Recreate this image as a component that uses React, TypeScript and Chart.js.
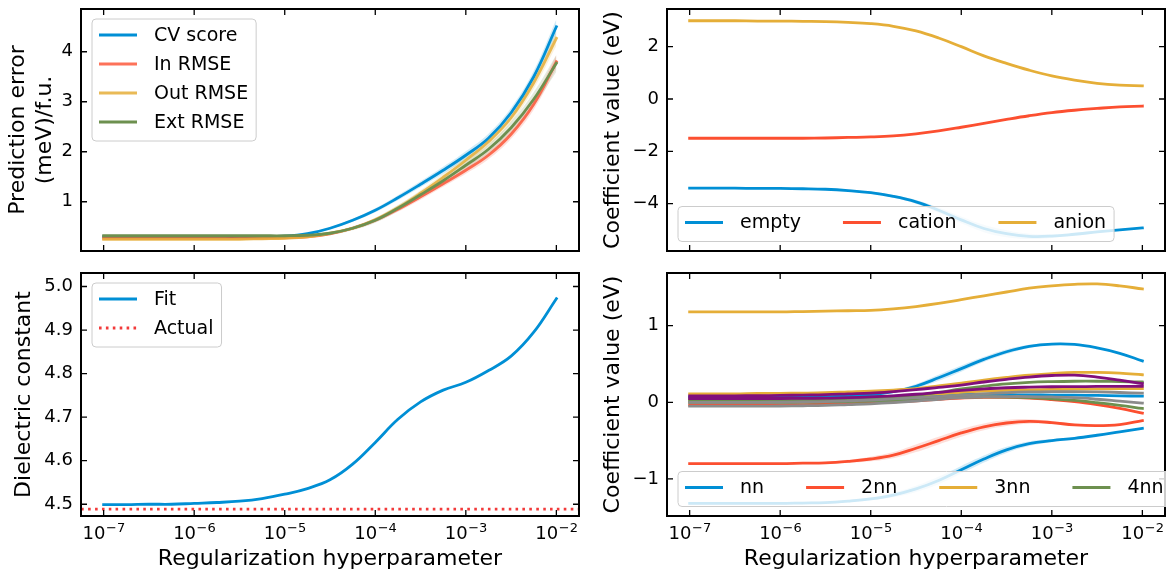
import React, { useEffect, useRef } from "react";
import { Chart, registerables } from "chart.js";

Chart.register(...registerables);

const FONT = '"DejaVu Sans", "Liberation Sans", sans-serif';

// ---------------- data ----------------
const logLambda = [-7, -6.75, -6.5, -6.25, -6, -5.75, -5.5, -5.25, -5, -4.75, -4.5, -4.25, -4, -3.75, -3.5, -3.25, -3, -2.75, -2.5, -2.25, -2];
const xAxisMinExp = -7.25;
const xAxisMaxExp = -1.75;
const xTickExponents = [-7, -6, -5, -4, -3, -2];
const xTickSupLabels = ["\u22127", "\u22126", "\u22125", "\u22124", "\u22123", "\u22122"];

// top-left: prediction error
const cvScore = [0.30, 0.30, 0.30, 0.30, 0.30, 0.30, 0.30, 0.30, 0.31, 0.36, 0.47, 0.63, 0.83, 1.08, 1.35, 1.63, 1.93, 2.27, 2.78, 3.50, 4.50];
const cvScoreStd = [0.01, 0.01, 0.01, 0.01, 0.01, 0.01, 0.01, 0.01, 0.01, 0.015, 0.02, 0.03, 0.04, 0.05, 0.06, 0.07, 0.08, 0.09, 0.10, 0.12, 0.15];
const inRmse = [0.27, 0.27, 0.27, 0.27, 0.27, 0.27, 0.27, 0.27, 0.28, 0.30, 0.36, 0.47, 0.63, 0.85, 1.10, 1.36, 1.63, 1.93, 2.35, 2.95, 3.80];
const inRmseStd = [0.01, 0.01, 0.01, 0.01, 0.01, 0.01, 0.01, 0.01, 0.01, 0.015, 0.02, 0.03, 0.04, 0.05, 0.06, 0.06, 0.07, 0.08, 0.09, 0.11, 0.13];
const outRmse = [0.25, 0.25, 0.25, 0.25, 0.25, 0.25, 0.25, 0.26, 0.27, 0.30, 0.37, 0.47, 0.64, 0.88, 1.17, 1.49, 1.83, 2.20, 2.68, 3.38, 4.27];
const outRmseStd = [0.01, 0.01, 0.01, 0.01, 0.01, 0.01, 0.01, 0.01, 0.01, 0.015, 0.02, 0.03, 0.04, 0.05, 0.06, 0.07, 0.08, 0.09, 0.10, 0.12, 0.15];
const extRmse = [0.32, 0.32, 0.32, 0.32, 0.32, 0.32, 0.32, 0.32, 0.32, 0.33, 0.37, 0.47, 0.63, 0.87, 1.14, 1.42, 1.73, 2.05, 2.48, 3.05, 3.77];
const extRmseStd = [0.02, 0.02, 0.02, 0.02, 0.02, 0.02, 0.02, 0.02, 0.02, 0.02, 0.03, 0.04, 0.05, 0.06, 0.07, 0.08, 0.09, 0.10, 0.12, 0.14, 0.17];
const errorTicks = [1, 2, 3, 4];
const errorTickLabels = ["1", "2", "3", "4"];

// bottom-left: dielectric constant
const dielectricFit = [4.499, 4.499, 4.500, 4.500, 4.502, 4.504, 4.507, 4.513, 4.523, 4.536, 4.556, 4.592, 4.642, 4.695, 4.735, 4.762, 4.780, 4.807, 4.840, 4.895, 4.972];
const dielectricActual = [4.489, 4.489];
const dielectricTicks = [4.5, 4.6, 4.7, 4.8, 4.9, 5.0];
const dielectricTickLabels = ["4.5", "4.6", "4.7", "4.8", "4.9", "5.0"];

// top-right: point coefficients
const emptyCoef = [-3.41, -3.41, -3.41, -3.42, -3.42, -3.43, -3.45, -3.50, -3.58, -3.72, -3.93, -4.25, -4.62, -4.95, -5.15, -5.25, -5.24, -5.17, -5.08, -5.00, -4.93];
const emptyStd = [0.02, 0.02, 0.02, 0.02, 0.02, 0.02, 0.02, 0.03, 0.04, 0.05, 0.07, 0.10, 0.13, 0.14, 0.13, 0.10, 0.07, 0.05, 0.04, 0.03, 0.03];
const cationCoef = [-1.50, -1.50, -1.50, -1.50, -1.50, -1.50, -1.49, -1.47, -1.45, -1.41, -1.33, -1.22, -1.08, -0.93, -0.78, -0.64, -0.52, -0.43, -0.36, -0.30, -0.27];
const anionCoef = [2.99, 2.99, 2.99, 2.98, 2.98, 2.97, 2.96, 2.93, 2.88, 2.78, 2.60, 2.33, 2.00, 1.65, 1.36, 1.10, 0.88, 0.72, 0.60, 0.53, 0.50];
const pointTicks = [-4, -2, 0, 2];
const pointTickLabels = ["\u22124", "\u22122", "0", "2"];

// bottom-right: pair coefficients
const nnA = [0.07, 0.07, 0.07, 0.07, 0.07, 0.072, 0.075, 0.085, 0.10, 0.14, 0.21, 0.32, 0.44, 0.56, 0.66, 0.73, 0.76, 0.755, 0.71, 0.64, 0.54];
const nnAStd = [0.01, 0.01, 0.01, 0.01, 0.01, 0.01, 0.01, 0.01, 0.015, 0.02, 0.03, 0.04, 0.04, 0.035, 0.03, 0.02, 0.015, 0.01, 0.01, 0.01, 0.01];
const nnB = [0.06, 0.06, 0.06, 0.06, 0.06, 0.062, 0.065, 0.07, 0.075, 0.08, 0.09, 0.10, 0.105, 0.105, 0.10, 0.097, 0.095, 0.093, 0.09, 0.085, 0.08];
const nnC = [-1.32, -1.32, -1.32, -1.32, -1.32, -1.315, -1.31, -1.29, -1.26, -1.21, -1.13, -1.02, -0.88, -0.74, -0.62, -0.54, -0.50, -0.47, -0.43, -0.385, -0.34];
const nnCStd = [0.01, 0.01, 0.01, 0.01, 0.01, 0.01, 0.01, 0.015, 0.02, 0.03, 0.04, 0.05, 0.05, 0.045, 0.04, 0.03, 0.02, 0.015, 0.01, 0.01, 0.01];
const nn2A = [-0.80, -0.80, -0.80, -0.80, -0.80, -0.795, -0.79, -0.77, -0.74, -0.69, -0.60, -0.50, -0.40, -0.32, -0.27, -0.25, -0.265, -0.295, -0.305, -0.29, -0.24];
const nn2AStd = [0.01, 0.01, 0.01, 0.01, 0.01, 0.01, 0.015, 0.02, 0.03, 0.04, 0.05, 0.05, 0.05, 0.045, 0.04, 0.03, 0.02, 0.015, 0.01, 0.01, 0.01];
const nn2B = [-0.035, -0.035, -0.035, -0.035, -0.033, -0.03, -0.025, -0.018, -0.008, 0.005, 0.02, 0.04, 0.055, 0.065, 0.065, 0.055, 0.035, 0.01, -0.03, -0.08, -0.14];
const nn3A = [1.18, 1.18, 1.18, 1.18, 1.18, 1.185, 1.19, 1.195, 1.20, 1.22, 1.25, 1.29, 1.34, 1.39, 1.44, 1.49, 1.52, 1.54, 1.545, 1.52, 1.48];
const nn3B = [0.11, 0.11, 0.11, 0.115, 0.117, 0.12, 0.125, 0.135, 0.145, 0.16, 0.18, 0.215, 0.25, 0.29, 0.325, 0.355, 0.375, 0.39, 0.39, 0.38, 0.36];
const nn3C = [0.04, 0.04, 0.04, 0.04, 0.04, 0.042, 0.045, 0.05, 0.06, 0.075, 0.09, 0.11, 0.13, 0.145, 0.155, 0.163, 0.168, 0.172, 0.175, 0.178, 0.18];
const nn4A = [0.03, 0.03, 0.03, 0.03, 0.03, 0.032, 0.035, 0.04, 0.045, 0.06, 0.09, 0.13, 0.175, 0.21, 0.24, 0.26, 0.27, 0.275, 0.275, 0.27, 0.265];
const nn4B = [0.0, 0.0, 0.0, 0.0, 0.0, 0.002, 0.005, 0.01, 0.015, 0.025, 0.04, 0.055, 0.065, 0.07, 0.068, 0.06, 0.045, 0.025, -0.005, -0.04, -0.08];
const nn5A = [0.0, 0.0, 0.0, 0.0, 0.002, 0.005, 0.01, 0.02, 0.03, 0.045, 0.06, 0.075, 0.095, 0.11, 0.125, 0.135, 0.14, 0.14, 0.135, 0.128, 0.12];
const nn5B = [-0.05, -0.05, -0.05, -0.05, -0.048, -0.045, -0.04, -0.03, -0.02, -0.005, 0.015, 0.04, 0.06, 0.07, 0.075, 0.075, 0.07, 0.06, 0.04, 0.015, -0.01];
const nn6A = [0.085, 0.085, 0.085, 0.087, 0.09, 0.095, 0.10, 0.11, 0.12, 0.14, 0.165, 0.195, 0.225, 0.265, 0.30, 0.33, 0.35, 0.355, 0.33, 0.29, 0.245];
const nn6B = [0.05, 0.05, 0.05, 0.05, 0.05, 0.052, 0.055, 0.06, 0.07, 0.085, 0.105, 0.13, 0.155, 0.175, 0.19, 0.198, 0.203, 0.205, 0.207, 0.208, 0.21];
const pairTicks = [-1, 0, 1];
const pairTickLabels = ["\u22121", "0", "1"];

// ---------------- styles ----------------
const C = {
  blue: "#008fd5",
  red: "#fc4f30",
  yellow: "#e5ae38",
  green: "#6d904f",
  gray: "#8b8b8b",
  purple: "#810f7c",
  dotRed: "#f23a3a",
};

type Series = {
  label: string;
  values: number[];
  xs?: number[];
  std?: number[];
  color: string;
  alpha?: number;
  dash?: number[];
  legend?: boolean;
};

type Area = { left: number; right: number; top: number; bottom: number };

type PanelSpec = {
  key: string;
  left: number;
  top: number;
  width: number;
  height: number;
  area: Area;
  series: Series[];
  yMin: number;
  yMax: number;
  yTicks: number[];
  yTickLabels: string[];
  yTitle: string | string[];
  yTitlePad: number;
  showX: boolean;
  legendLoc: "upper left" | "lower left";
  legendCols: number;
};

function rgba(hex: string, a: number) {
  const n = parseInt(hex.slice(1), 16);
  return `rgba(${(n >> 16) & 255},${(n >> 8) & 255},${n & 255},${a})`;
}

const LINE_W = 2.8;
const TENSION = 0.4;

function buildDatasets(series: Series[]) {
  const grid = logLambda.map((e) => Math.pow(10, e));
  const out: any[] = [];
  series.forEach((s) => {
    if (!s.std) return;
    const sx = s.xs ?? grid;
    out.push({
      label: "",
      data: sx.map((x, j) => ({ x, y: s.values[j] + s.std![j] })),
      borderWidth: 0,
      borderColor: "rgba(0,0,0,0)",
      backgroundColor: rgba(s.color, 0.18),
      pointRadius: 0,
      fill: "+1",
      order: 1000,
      tension: TENSION,
      inLegend: false,
    });
    out.push({
      label: "",
      data: sx.map((x, j) => ({ x, y: s.values[j] - s.std![j] })),
      borderWidth: 0,
      borderColor: "rgba(0,0,0,0)",
      pointRadius: 0,
      fill: false,
      order: 1000,
      tension: TENSION,
      inLegend: false,
    });
  });
  series.forEach((s, i) => {
    const sx = s.xs ?? grid;
    out.push({
      label: s.label,
      data: sx.map((x, j) => ({ x, y: s.values[j] })),
      borderColor: rgba(s.color, s.alpha ?? 1),
      borderWidth: LINE_W,
      borderDash: s.dash ?? [],
      borderCapStyle: s.dash ? "butt" : "square",
      pointRadius: 0,
      fill: false,
      order: -i,
      tension: TENSION,
      inLegend: s.legend !== false,
    });
  });
  return out;
}

function axesPlugin(spec: PanelSpec) {
  return {
    id: "mplAxes",
    afterDatasetsDraw(chart: any) {
      const { ctx, chartArea: a } = chart;
      const xs = chart.scales.x;
      const ys = chart.scales.y;
      ctx.save();
      ctx.strokeStyle = "#000";
      ctx.lineWidth = 1.3;
      ctx.beginPath();
      xTickExponents.forEach((e) => {
        const px = xs.getPixelForValue(Math.pow(10, e));
        ctx.moveTo(px, a.bottom);
        ctx.lineTo(px, a.bottom - 6);
        ctx.moveTo(px, a.top);
        ctx.lineTo(px, a.top + 6);
      });
      spec.yTicks.forEach((v) => {
        const py = ys.getPixelForValue(v);
        ctx.moveTo(a.left, py);
        ctx.lineTo(a.left + 6, py);
        ctx.moveTo(a.right, py);
        ctx.lineTo(a.right - 6, py);
      });
      ctx.stroke();
      ctx.lineWidth = 2;
      ctx.strokeRect(a.left, a.top, a.right - a.left, a.bottom - a.top);

      ctx.fillStyle = "#000";
      ctx.font = `18px ${FONT}`;
      ctx.textAlign = "right";
      ctx.textBaseline = "middle";
      spec.yTicks.forEach((v, i) => {
        ctx.fillText(spec.yTickLabels[i], a.left - 8, ys.getPixelForValue(v));
      });

      if (spec.showX) {
        ctx.textAlign = "left";
        ctx.textBaseline = "alphabetic";
        const baseY = a.bottom + 22.5;
        xTickExponents.forEach((e, i) => {
          const px = xs.getPixelForValue(Math.pow(10, e));
          ctx.font = `18px ${FONT}`;
          const wb = ctx.measureText("10").width;
          ctx.font = `13px ${FONT}`;
          const ws = ctx.measureText(xTickSupLabels[i]).width;
          const x0 = px - (wb + ws) / 2;
          ctx.font = `18px ${FONT}`;
          ctx.fillText("10", x0, baseY);
          ctx.font = `13px ${FONT}`;
          ctx.fillText(xTickSupLabels[i], x0 + wb + 0.5, baseY - 7);
        });
      }
      ctx.restore();
    },
  };
}

function legendPlugin(spec: PanelSpec) {
  return {
    id: "mplLegend",
    afterDraw(chart: any) {
      const { ctx, chartArea: a } = chart;
      const items = chart.data.datasets.filter((d: any) => d.inLegend);
      if (!items.length) return;
      ctx.save();
      ctx.font = `19px ${FONT}`;
      const ncol = spec.legendCols;
      const nrows = Math.ceil(items.length / ncol);
      const HANDLE = 38;
      const TEXT_OFF = 55;
      const COL_GAP = 42;
      const colW: number[] = [];
      for (let c = 0; c < ncol; c++) {
        let m = 0;
        for (let r = 0; r < nrows; r++) {
          const it = items[c * nrows + r];
          if (it) m = Math.max(m, ctx.measureText(it.label).width);
        }
        colW.push(TEXT_OFF + m);
      }
      const frameW = 7 + colW.reduce((s, w) => s + w, 0) + (ncol - 1) * COL_GAP + 8;
      const frameH = 16 + (nrows - 1) * 29 + 19;
      const left = a.left + 11;
      const top = spec.legendLoc === "upper left" ? a.top + 10 : a.bottom - 9.5 - frameH;
      const r = 4;
      ctx.beginPath();
      ctx.moveTo(left + r, top);
      ctx.lineTo(left + frameW - r, top);
      ctx.arcTo(left + frameW, top, left + frameW, top + r, r);
      ctx.lineTo(left + frameW, top + frameH - r);
      ctx.arcTo(left + frameW, top + frameH, left + frameW - r, top + frameH, r);
      ctx.lineTo(left + r, top + frameH);
      ctx.arcTo(left, top + frameH, left, top + frameH - r, r);
      ctx.lineTo(left, top + r);
      ctx.arcTo(left, top, left + r, top, r);
      ctx.closePath();
      ctx.fillStyle = "rgba(255,255,255,0.8)";
      ctx.fill();
      ctx.strokeStyle = "#cccccc";
      ctx.lineWidth = 1;
      ctx.stroke();

      let cx = left + 7;
      for (let c = 0; c < ncol; c++) {
        for (let rr = 0; rr < nrows; rr++) {
          const it = items[c * nrows + rr];
          if (!it) continue;
          const cy = top + 16 + rr * 29;
          ctx.beginPath();
          ctx.setLineDash(it.borderDash || []);
          ctx.lineCap = "butt";
          ctx.strokeStyle = it.borderColor;
          ctx.lineWidth = it.borderWidth;
          ctx.moveTo(cx, cy);
          ctx.lineTo(cx + HANDLE, cy);
          ctx.stroke();
          ctx.setLineDash([]);
          ctx.fillStyle = "#000";
          ctx.textAlign = "left";
          ctx.textBaseline = "middle";
          ctx.fillText(it.label, cx + TEXT_OFF, cy + 1);
        }
        cx += colW[c] + COL_GAP;
      }
      ctx.restore();
    },
  };
}

function makeConfig(spec: PanelSpec): any {
  const a = spec.area;
  const titleFont = { family: FONT, size: 22, lineHeight: 1.2 };
  return {
    type: "line",
    data: { datasets: buildDatasets(spec.series) },
    options: {
      animation: false,
      responsive: false,
      maintainAspectRatio: false,
      events: [],
      layout: { padding: { left: 0, top: a.top, right: spec.width - a.right, bottom: 0 } },
      scales: {
        x: {
          type: "logarithmic",
          bounds: "data",
          min: Math.pow(10, xAxisMinExp),
          max: Math.pow(10, xAxisMaxExp),
          grid: { display: false, drawTicks: false },
          border: { display: false },
          ticks: { display: false },
          afterFit: (s: any) => {
            s.height = spec.height - a.bottom;
          },
          title: spec.showX
            ? { display: true, text: "Regularization hyperparameter", color: "#000", font: titleFont, padding: { top: 0, bottom: 0 } }
            : { display: false },
        },
        y: {
          type: "linear",
          bounds: "data",
          min: spec.yMin,
          max: spec.yMax,
          grid: { display: false, drawTicks: false },
          border: { display: false },
          ticks: { display: false },
          afterFit: (s: any) => {
            s.width = a.left;
          },
          title: { display: true, text: spec.yTitle, color: "#000", font: titleFont, padding: { top: spec.yTitlePad, bottom: 0 } },
        },
      },
      plugins: { legend: { display: false }, tooltip: { enabled: false } },
    },
    plugins: [axesPlugin(spec), legendPlugin(spec)],
  };
}

// ---------------- panels ----------------
const panels: PanelSpec[] = [
  {
    key: "error",
    left: 0,
    top: 0,
    width: 600,
    height: 262,
    area: { left: 81, right: 579, top: 9, bottom: 251 },
    series: [
      { label: "CV score", values: cvScore, std: cvScoreStd, color: C.blue },
      { label: "In RMSE", values: inRmse, std: inRmseStd, color: C.red, alpha: 0.8 },
      { label: "Out RMSE", values: outRmse, std: outRmseStd, color: C.yellow, alpha: 0.85 },
      { label: "Ext RMSE", values: extRmse, std: extRmseStd, color: C.green },
    ],
    yMin: 0.015,
    yMax: 4.855,
    yTicks: errorTicks,
    yTickLabels: errorTickLabels,
    yTitle: ["Prediction error", "(meV)/f.u."],
    yTitlePad: 5.5,
    showX: false,
    legendLoc: "upper left",
    legendCols: 1,
  },
  {
    key: "dielectric",
    left: 0,
    top: 262,
    width: 600,
    height: 310,
    area: { left: 81, right: 579, top: 11, bottom: 254 },
    series: [
      { label: "Fit", values: dielectricFit, color: C.blue },
      {
        label: "Actual",
        values: dielectricActual,
        xs: [Math.pow(10, xAxisMinExp), Math.pow(10, xAxisMaxExp)],
        color: C.dotRed,
        dash: [2.6, 4.3],
      },
    ],
    yMin: 4.473,
    yMax: 5.031,
    yTicks: dielectricTicks,
    yTickLabels: dielectricTickLabels,
    yTitle: "Dielectric constant",
    yTitlePad: 10.8,
    showX: true,
    legendLoc: "upper left",
    legendCols: 1,
  },
  {
    key: "point",
    left: 590,
    top: 0,
    width: 620,
    height: 262,
    area: { left: 77, right: 575, top: 9, bottom: 251 },
    series: [
      { label: "empty", values: emptyCoef, std: emptyStd, color: C.blue },
      { label: "cation", values: cationCoef, color: C.red },
      { label: "anion", values: anionCoef, color: C.yellow },
    ],
    yMin: -5.81,
    yMax: 3.44,
    yTicks: pointTicks,
    yTickLabels: pointTickLabels,
    yTitle: "Coefficient value (eV)",
    yTitlePad: 9.8,
    showX: false,
    legendLoc: "lower left",
    legendCols: 3,
  },
  {
    key: "pair",
    left: 590,
    top: 262,
    width: 620,
    height: 310,
    area: { left: 77, right: 575, top: 11, bottom: 254 },
    series: [
      { label: "nn", values: nnA, std: nnAStd, color: C.blue },
      { label: "nn", values: nnB, color: C.blue, legend: false },
      { label: "nn", values: nnC, std: nnCStd, color: C.blue, legend: false },
      { label: "2nn", values: nn2A, std: nn2AStd, color: C.red },
      { label: "2nn", values: nn2B, color: C.red, legend: false },
      { label: "3nn", values: nn3A, color: C.yellow },
      { label: "3nn", values: nn3B, color: C.yellow, legend: false },
      { label: "3nn", values: nn3C, color: C.yellow, legend: false },
      { label: "4nn", values: nn4A, color: C.green },
      { label: "4nn", values: nn4B, color: C.green, legend: false },
      { label: "5nn", values: nn5A, color: C.gray },
      { label: "5nn", values: nn5B, color: C.gray, legend: false },
      { label: "6nn", values: nn6A, color: C.purple },
      { label: "6nn", values: nn6B, color: C.purple, legend: false },
    ],
    yMin: -1.484,
    yMax: 1.688,
    yTicks: pairTicks,
    yTickLabels: pairTickLabels,
    yTitle: "Coefficient value (eV)",
    yTitlePad: 9.8,
    showX: true,
    legendLoc: "lower left",
    legendCols: 6,
  },
];

function Panel({ spec }: { spec: PanelSpec }) {
  const ref = useRef<HTMLCanvasElement>(null);
  useEffect(() => {
    if (!ref.current) return;
    const chart = new Chart(ref.current, makeConfig(spec));
    return () => chart.destroy();
  }, [spec]);
  return (
    <canvas
      ref={ref}
      width={spec.width}
      height={spec.height}
      style={{ position: "absolute", left: spec.left, top: spec.top, width: spec.width, height: spec.height }}
    />
  );
}

export default function App() {
  return (
    <div
      style={{
        position: "fixed",
        left: 0,
        top: 0,
        width: 1166,
        height: 569,
        overflow: "hidden",
        background: "#ffffff",
      }}
    >
      {panels.map((p) => (
        <Panel key={p.key} spec={p} />
      ))}
    </div>
  );
}
